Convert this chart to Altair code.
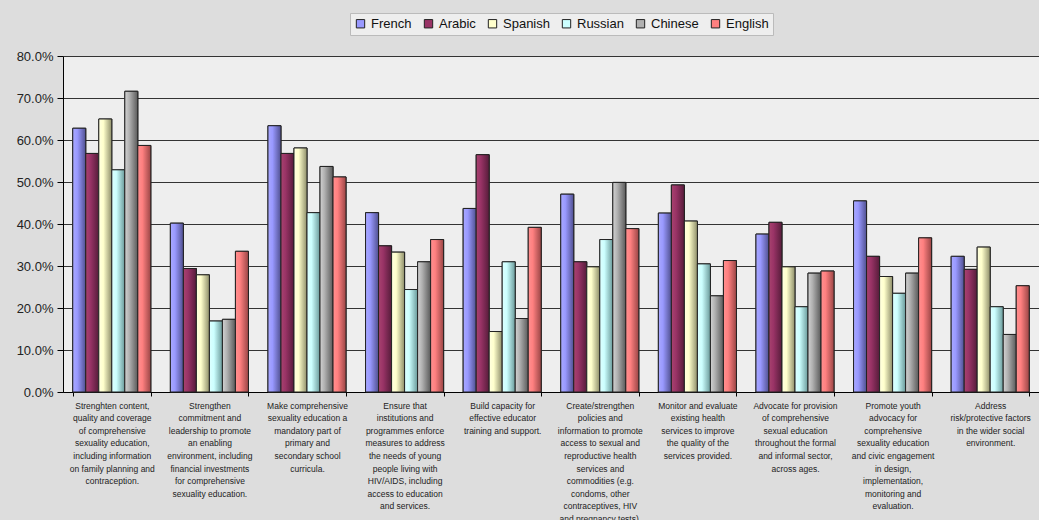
import altair as alt
import pandas as pd

categories = [
    "Strenghten content,|quality and coverage|of comprehensive|sexuality education,|including information|on family planning and|contraception.",
    "Strengthen|commitment and|leadership to promote|an enabling|environment, including|financial investments|for comprehensive|sexuality education.",
    "Make comprehensive|sexuality education a|mandatory part of|primary and|secondary school|curricula.",
    "Ensure that|institutions and|programmes enforce|measures to address|the needs of young|people living with|HIV/AIDS, including|access to education|and services.",
    "Build capacity for|effective educator|training and support.",
    "Create/strengthen|policies and|information to promote|access to sexual and|reproductive health|services and|commodities (e.g.|condoms, other|contraceptives, HIV|and pregnancy tests).",
    "Monitor and evaluate|existing health|services to improve|the quality of the|services provided.",
    "Advocate for provision|of comprehensive|sexual education|throughout the formal|and informal sector,|across ages.",
    "Promote youth|advocacy for|comprehensive|sexuality education|and civic engagement|in design,|implementation,|monitoring and|evaluation.",
    "Address|risk/protective factors|in the wider social|environment.",
]

series = ["French", "Arabic", "Spanish", "Russian", "Chinese", "English"]

french = [0.628, 0.402, 0.634, 0.427, 0.437, 0.471, 0.426, 0.376, 0.455, 0.323]
arabic = [0.568, 0.294, 0.568, 0.348, 0.565, 0.310, 0.493, 0.404, 0.323, 0.292]
spanish = [0.650, 0.279, 0.581, 0.333, 0.144, 0.298, 0.407, 0.298, 0.275, 0.345]
russian = [0.529, 0.169, 0.427, 0.244, 0.310, 0.363, 0.305, 0.203, 0.235, 0.203]
chinese = [0.716, 0.173, 0.537, 0.310, 0.175, 0.499, 0.229, 0.283, 0.283, 0.137]
english = [0.587, 0.335, 0.512, 0.363, 0.392, 0.389, 0.313, 0.288, 0.367, 0.253]

base_colors = ["#9999FF", "#993366", "#FFFFCC", "#CCFFFF", "#B0B0B0", "#FF8080"]
light_colors = ["#A9A9FF", "#A8436F", "#FFFFE0", "#DDFFFF", "#D2D2D2", "#FF9090"]
dark_colors = ["#505090", "#561C3A", "#8E8E6A", "#6A9A9A", "#5A5A5A", "#9A4545"]

values = [french, arabic, spanish, russian, chinese, english]
rows = []
for s, vals in zip(series, values):
    for c, v in zip(categories, vals):
        rows.append({"category": c, "series": s, "value": v})
df = pd.DataFrame(rows)

x_enc = alt.X(
    "category:N",
    scale=alt.Scale(domain=categories, paddingInner=0.2, paddingOuter=0.1),
    axis=alt.Axis(
        title=None,
        labelAngle=0,
        labelExpr="split(datum.label, '|')",
        labelFontSize=8.5,
        labelLineHeight=12.6,
        labelLimit=200,
        labelColor="#222222",
        labelBaseline="top",
        labelPadding=5,
        tickBand="extent",
        tickSize=4,
        tickColor="#000000",
        domainColor="#000000",
        grid=False,
    ),
)
xoff_enc = alt.XOffset("series:N", scale=alt.Scale(domain=series, paddingInner=0, paddingOuter=0))
y_enc = alt.Y(
    "value:Q",
    scale=alt.Scale(domain=[0, 0.8], nice=False),
    axis=alt.Axis(
        title=None,
        format=".1%",
        values=[0, 0.1, 0.2, 0.3, 0.4, 0.5, 0.6, 0.7, 0.8],
        labelFontSize=13,
        labelColor="#222222",
        tickSize=6,
        tickColor="#000000",
        domainColor="#000000",
        gridColor="#333333",
        gridWidth=1,
        labelPadding=4,
    ),
)

base = alt.Chart(df).mark_bar(stroke="#222222", strokeWidth=1).encode(
    x=x_enc,
    xOffset=xoff_enc,
    y=y_enc,
    color=alt.Color(
        "series:N",
        scale=alt.Scale(domain=series, range=base_colors),
        legend=alt.Legend(
            title=None,
            orient="none",
            direction="horizontal",
            columns=6,
            legendX=287,
            legendY=-43,
            fillColor="#EEEEEE",
            strokeColor="#BBBBBB",
            padding=4,
            symbolType="square",
            symbolSize=70,
            symbolStrokeColor="#222222",
            symbolStrokeWidth=1,
            symbolOpacity=1,
            labelFontSize=13,
            labelColor="#111111",
            labelOffset=4,
            columnPadding=10,
        ),
    ),
)

layers = [base]
for s, lc, bc, dc in zip(series, light_colors, base_colors, dark_colors):
    grad = alt.Gradient(
        gradient="linear",
        stops=[
            alt.GradientStop(offset=0, color=lc),
            alt.GradientStop(offset=0.35, color=bc),
            alt.GradientStop(offset=1, color=dc),
        ],
        x1=0, x2=1, y1=0, y2=0,
    )
    layer = (
        alt.Chart(df)
        .transform_filter(alt.datum.series == s)
        .mark_bar(fill=grad, stroke="#222222", strokeWidth=1)
        .encode(x=x_enc, xOffset=xoff_enc, y=y_enc)
    )
    layers.append(layer)

chart = (
    alt.layer(*layers)
    .properties(
        width=976,
        height=336,
        autosize=alt.AutoSizeParams(type="none"),
        padding={"left": 63, "top": 56, "right": 0, "bottom": 128},
        background="#DDDDDD",
    )
    .configure(font="Liberation Sans")
    .configure_view(fill="#EEEEEE", stroke=None)
)

chart.save("out.html", embed_options={"renderer": "svg", "actions": False})
